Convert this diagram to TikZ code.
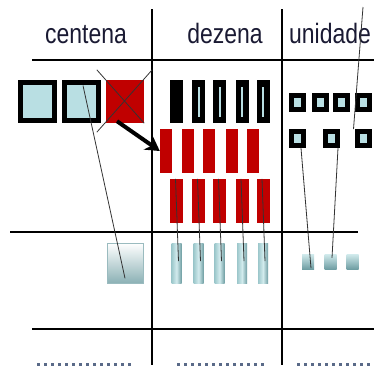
\documentclass[tikz,border=0pt]{standalone}
\usepackage{fontspec}
\newfontfamily\narrowsans[FakeStretch=0.82]{Liberation Sans}
\usetikzlibrary{arrows.meta}
\definecolor{lblue}{HTML}{B9DFE3}
\definecolor{dred}{HTML}{C00000}
\definecolor{txtc}{HTML}{1A1A33}
\definecolor{dotc}{HTML}{5A6A88}
\definecolor{tealA}{HTML}{9CC7CB}
\definecolor{tealB}{HTML}{6F9EA3}
\definecolor{tealC}{HTML}{D2EBED}
\tikzset{
	lbl/.style={font=\narrowsans\fontsize{28}{30}\selectfont, text=txtc, inner sep=0pt},
	grid/.style={line width=1.3pt, black},
	thinline/.style={draw=black!80, line width=0.8pt},
	dots/.style={draw=dotc, line width=3pt, dash pattern=on 3pt off 4pt},
	csq/.style={draw=black, line width=5pt, fill=lblue, minimum width=34pt, minimum height=38pt, inner sep=0pt},
	usq/.style={draw=black, line width=5pt, fill=lblue, minimum width=12pt, minimum height=14pt, inner sep=0pt},
	dbar/.style={fill=black, minimum width=13pt, minimum height=43pt, inner sep=0pt},
	dbarl/.style={dbar, path picture={\fill[lblue] ([xshift=-1pt,yshift=-7pt]path picture bounding box.north) rectangle ([xshift=1pt,yshift=6pt]path picture bounding box.south);}},
	rbar/.style={fill=dred, minimum width=12pt, minimum height=44pt, inner sep=0pt},
	rbarw/.style={rbar, minimum width=13pt},
	cblock/.style={top color=white, bottom color=tealB!80, draw=tealB!70, line width=0.6pt, minimum width=36pt, minimum height=40pt, inner sep=0pt},
	tbar/.style={left color=tealA, right color=tealB, middle color=tealC, minimum width=10pt, minimum height=40pt, inner sep=0pt},
	tsq/.style={top color=tealC, bottom color=tealB, minimum width=12pt, minimum height=15pt, inner sep=0pt},
}
\begin{document}
\begin{tikzpicture}[x=1pt,y=-1pt]
	\useasboundingbox (0,0) rectangle (374,365);

	% TABLE
	\draw[grid] (152,9) -- (152,365);
	\draw[grid] (282,9) -- (282,365);
	\draw[grid] (32,60) -- (374,60);
	\draw[grid] (10,232) -- (358,232);
	\draw[grid] (32,329) -- (374,329);
	\draw[dots] (37,364) -- (131,364);
	\draw[dots] (177,364) -- (267,364);
	\draw[dots] (297,364) -- (374,364);

	\node[lbl, anchor=base] (cen) at (86,43) {centena};
	\node[lbl, anchor=base] (dez) at (225,43) {dezena};
	\node[lbl, anchor=base west] (uni) at (289,43) {unidade};

	% CENTENA
	\node[csq] (c1) at (37.5,101.5) {};
	\node[csq] (c2) at (81.5,101.5) {};
	\node[fill=dred, minimum width=38pt, minimum height=43pt, inner sep=0pt] (r) at (125,101.5) {};
	\draw[thinline] ([xshift=-9pt,yshift=10pt]r.north west) -- (r.south east);
	\draw[thinline] ([xshift=8pt,yshift=10pt]r.north east) -- ([xshift=-9pt,yshift=-9pt]r.south west);
	\node[cblock] (cb) at (125,263) {};
	\draw[thinline] ([xshift=1.5pt,yshift=-5.5pt]c2.north) -- ([yshift=5pt]cb.south);

	% DEZENA
	\foreach \x [count=\i] in {176.5,198.5,219.5,242,263}{
		\ifnum\i=1
			\node[dbar] (d1-\i) at (\x,101.5) {};
		\else
			\node[dbarl] (d1-\i) at (\x,101.5) {};
		\fi
		\node[rbarw] (d3-\i) at (\x,201) {};
		\node[tbar] (db-\i) at (\x,263) {};
		\draw[thinline] ([xshift=-1pt]d3-\i.north) -- ([xshift=2pt,yshift=22pt]db-\i.south);
	}
	\foreach \x [count=\i] in {166,187.5,209,231.5,252.5}
		\node[rbar] (d2-\i) at (\x,151) {};
	\draw[-{Stealth[length=14pt,width=16pt]}, line width=4pt] ([xshift=-8pt,yshift=2pt]r.south) -- (d2-1.west);

	% UNIDADE
	\foreach \x [count=\i] in {297.5,320,341,363}
		\node[usq] (u1-\i) at (\x,102.5) {};
	\foreach \x [count=\i] in {297.5,331,363}
		\node[usq] (u2-\i) at (\x,138.5) {};
	\foreach \x [count=\i] in {308,330.5,352.5}
		\node[tsq] (ub-\i) at (\x,261.5) {};
	\draw[thinline] ([xshift=3.5pt]u2-1.south) -- ([xshift=3pt,yshift=1pt]ub-1.south);
	\draw[thinline] ([xshift=7pt]u2-2.south) -- ([xshift=1.5pt,yshift=-4pt]ub-2.north);
	\coordinate (utop) at (363,7);
	\draw[thinline] (utop) -- ([xshift=-1pt]u2-3.north west);
\end{tikzpicture}
\end{document}
